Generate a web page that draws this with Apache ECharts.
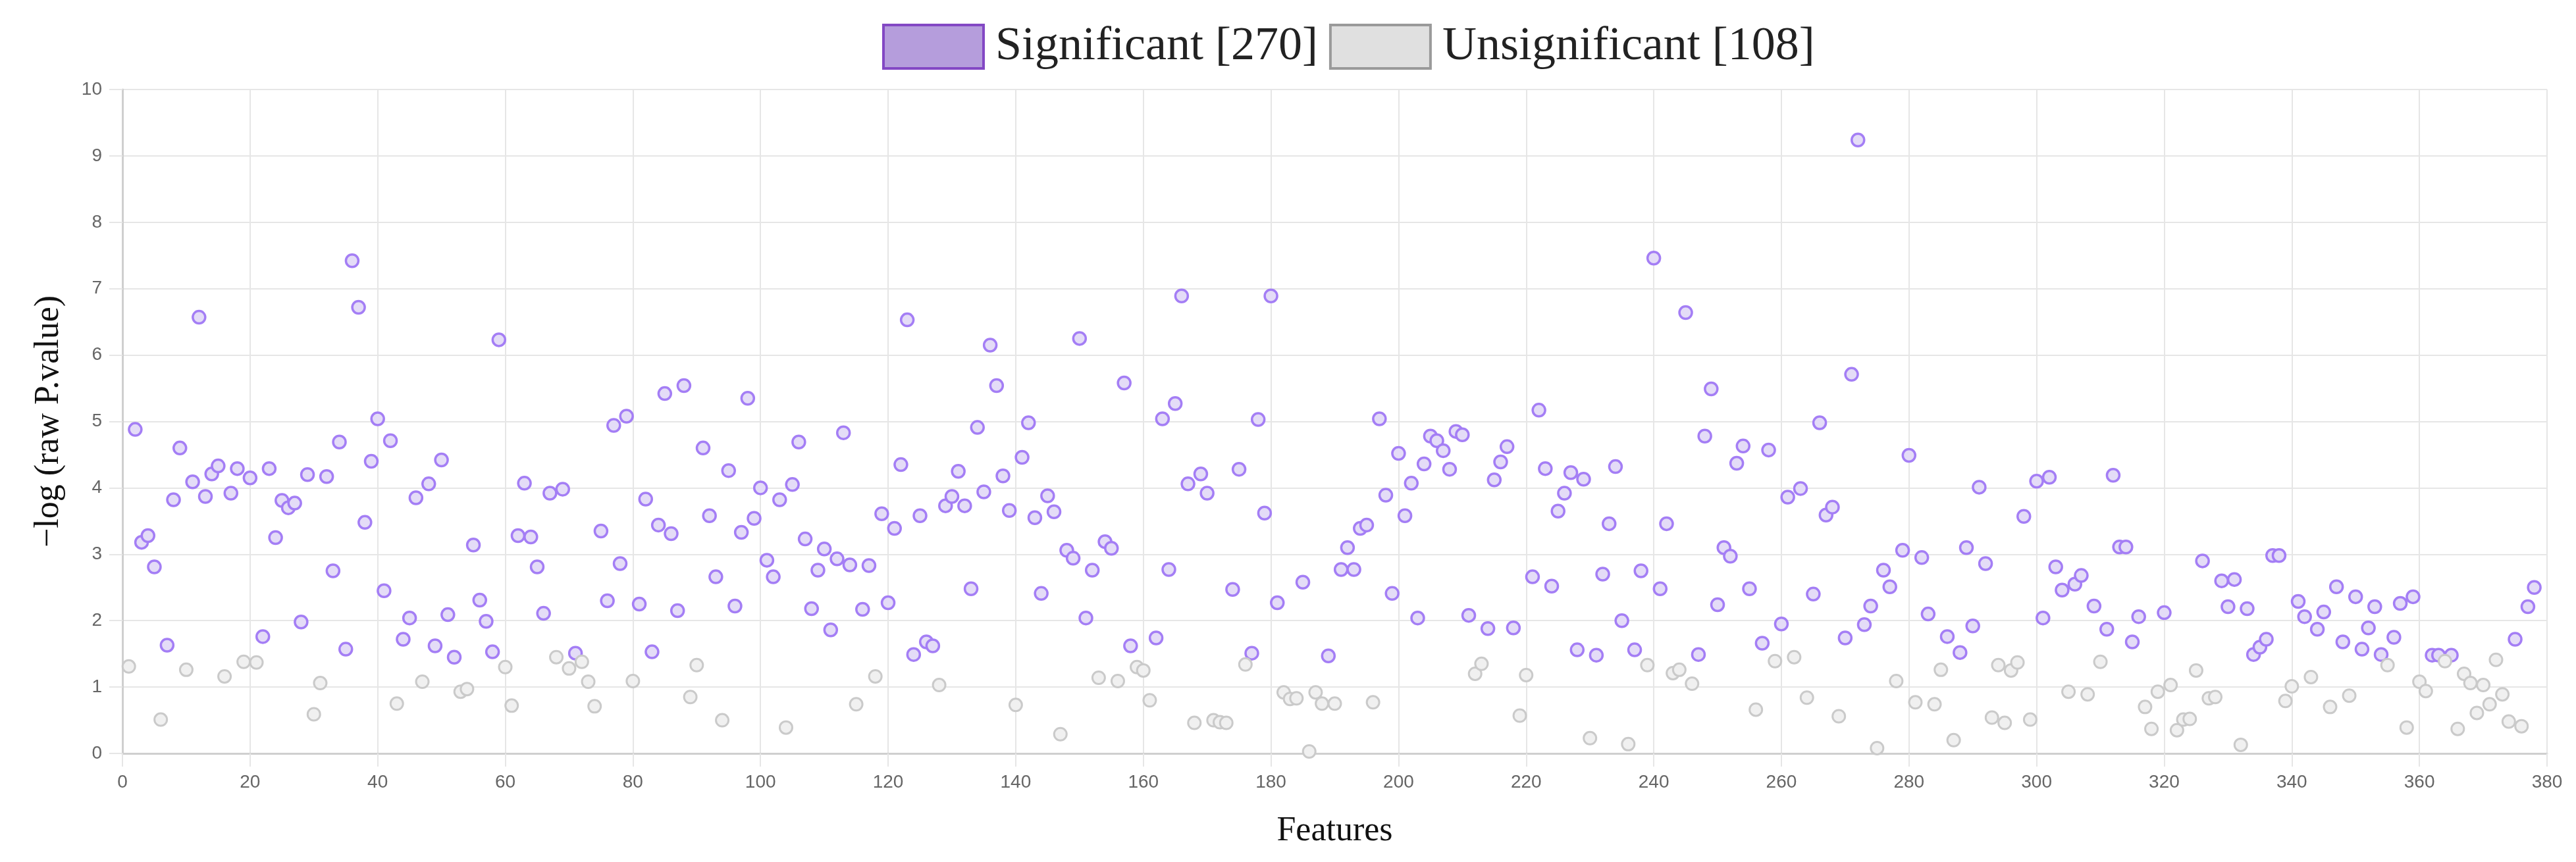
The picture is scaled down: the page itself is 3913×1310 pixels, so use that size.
<!DOCTYPE html>
<html>
<head>
<meta charset="utf-8">
<script src="https://cdn.jsdelivr.net/npm/echarts@6/dist/echarts.min.js"></script>
<style>
  html, body { margin: 0; padding: 0; background: #fff; }
  #chart { width: 3913px; height: 1310px; }
</style>
</head>
<body>
<div id="chart"></div>
<script>
// -log(raw P.value) per feature, feature 1..378 in order
const scores = [
  1.31, 4.88, 3.18, 3.28, 2.81, 0.51, 1.63, 3.82, 4.60, 1.26,
  4.09, 6.57, 3.87, 4.21, 4.33, 1.16, 3.92, 4.29, 1.38, 4.15,
  1.37, 1.76, 4.29, 3.25, 3.81, 3.70, 3.77, 1.98, 4.20, 0.59,
  1.06, 4.17, 2.75, 4.69, 1.57, 7.42, 6.72, 3.48, 4.40, 5.04,
  2.45, 4.71, 0.75, 1.72, 2.04, 3.85, 1.08, 4.06, 1.62, 4.42,
  2.09, 1.45, 0.93, 0.97, 3.14, 2.31, 1.99, 1.53, 6.23, 1.30,
  0.72, 3.28, 4.07, 3.26, 2.81, 2.11, 3.92, 1.45, 3.98, 1.28,
  1.51, 1.38, 1.08, 0.71, 3.35, 2.30, 4.94, 2.86, 5.08, 1.09,
  2.25, 3.83, 1.53, 3.44, 5.42, 3.31, 2.15, 5.54, 0.85, 1.33,
  4.60, 3.58, 2.66, 0.50, 4.26, 2.22, 3.33, 5.35, 3.54, 4.00,
  2.91, 2.66, 3.82, 0.39, 4.05, 4.69, 3.23, 2.18, 2.76, 3.08,
  1.86, 2.93, 4.83, 2.84, 0.74, 2.17, 2.83, 1.16, 3.61, 2.27,
  3.39, 4.35, 6.53, 1.49, 3.58, 1.68, 1.62, 1.03, 3.73, 3.87,
  4.25, 3.73, 2.48, 4.91, 3.94, 6.15, 5.54, 4.18, 3.66, 0.73,
  4.46, 4.98, 3.55, 2.41, 3.88, 3.64, 0.29, 3.06, 2.94, 6.25,
  2.04, 2.76, 1.14, 3.19, 3.09, 1.09, 5.58, 1.62, 1.30, 1.25,
  0.80, 1.74, 5.04, 2.77, 5.27, 6.89, 4.06, 0.46, 4.21, 3.92,
  0.50, 0.47, 0.46, 2.47, 4.28, 1.34, 1.51, 5.03, 3.62, 6.89,
  2.27, 0.92, 0.82, 0.83, 2.58, 0.03, 0.92, 0.75, 1.47, 0.75,
  2.77, 3.10, 2.77, 3.39, 3.44, 0.77, 5.04, 3.89, 2.41, 4.52,
  3.58, 4.07, 2.04, 4.36, 4.78, 4.71, 4.56, 4.28, 4.85, 4.80,
  2.08, 1.20, 1.35, 1.88, 4.12, 4.39, 4.62, 1.89, 0.57, 1.18,
  2.66, 5.17, 4.29, 2.52, 3.65, 3.92, 4.23, 1.56, 4.13, 0.23,
  1.48, 2.70, 3.46, 4.32, 2.00, 0.14, 1.56, 2.75, 1.33, 7.46,
  2.48, 3.46, 1.21, 1.26, 6.64, 1.05, 1.49, 4.78, 5.49, 2.24,
  3.10, 2.97, 4.37, 4.63, 2.48, 0.66, 1.66, 4.57, 1.39, 1.95,
  3.86, 1.45, 3.99, 0.84, 2.40, 4.98, 3.59, 3.71, 0.56, 1.74,
  5.71, 9.24, 1.94, 2.22, 0.08, 2.76, 2.51, 1.09, 3.06, 4.49,
  0.77, 2.95, 2.10, 0.74, 1.26, 1.76, 0.20, 1.52, 3.10, 1.92,
  4.01, 2.86, 0.54, 1.33, 0.46, 1.25, 1.37, 3.57, 0.51, 4.10,
  2.04, 4.16, 2.81, 2.46, 0.93, 2.55, 2.68, 0.89, 2.22, 1.38,
  1.87, 4.19, 3.11, 3.11, 1.68, 2.06, 0.70, 0.37, 0.93, 2.12,
  1.03, 0.35, 0.51, 0.52, 1.25, 2.90, 0.83, 0.85, 2.60, 2.21,
  2.62, 0.13, 2.18, 1.49, 1.60, 1.72, 2.98, 2.98, 0.79, 1.01,
  2.29, 2.06, 1.15, 1.87, 2.13, 0.70, 2.51, 1.68, 0.87, 2.36,
  1.57, 1.89, 2.21, 1.49, 1.33, 1.75, 2.26, 0.39, 2.36, 1.08,
  0.94, 1.48, 1.48, 1.39, 1.48, 0.37, 1.20, 1.06, 0.61, 1.03,
  0.74, 1.41, 0.89, 0.48, 1.72, 0.41, 2.21, 2.50
]

// features drawn in grey
const unsignificantFeatures = [
  1, 6, 10, 16, 19, 21, 30, 31, 43, 47, 53, 54, 60, 61, 68, 70, 72, 73, 74, 80,
  89, 90, 94, 104, 115, 118, 128, 140, 147, 153, 156, 159, 160, 161, 168, 171, 172, 173, 176,
  182, 183, 184, 186, 187, 188, 190, 196, 212, 213, 219, 220, 230, 236, 239, 243, 244, 246,
  256, 259, 262, 264, 269, 275, 278, 281, 284, 285, 287, 293, 294, 295, 296, 297, 299,
  305, 308, 310, 317, 318, 319, 321, 322, 323, 324, 325, 327, 328, 332, 339, 340, 343, 346, 349,
  355, 358, 360, 361, 364, 366, 367, 368, 369, 370, 371, 372, 373, 374, 376
]

const seriesNames = ['Significant', 'Unsignificant']

const sigData = []
const unsigData = []
scores.forEach((v, i) => {
  const feature = i + 1
  if (unsignificantFeatures.includes(feature)) unsigData.push([feature, v])
  else sigData.push([feature, v])
})

const legendNames = [
  `${seriesNames[0]} [${sigData.length}]`,
  `${seriesNames[1]} [${unsigData.length}]`
]

const gridColor = '#e6e6e6'
const serif = '"Liberation Serif", "Times New Roman", serif'
const sans = '"Liberation Sans", Arial, sans-serif'

const chart = echarts.init(document.getElementById('chart'))

chart.setOption({
  animation: false,
  legend: {
    left: 1335,
    top: 30,
    itemWidth: 152,
    itemHeight: 66,
    itemGap: 17,
    textStyle: {
      fontFamily: serif,
      fontSize: 72,
      color: '#222',
      padding: [0, 0, 0, 13]
    },
    data: [
      {
        name: legendNames[0],
        icon: 'rect',
        itemStyle: { color: '#b59ddc', borderColor: '#8348c4', borderWidth: 4 }
      },
      {
        name: legendNames[1],
        icon: 'rect',
        itemStyle: { color: '#e0e0e0', borderColor: '#9a9a9a', borderWidth: 4 }
      }
    ]
  },
  grid: {
    left: 186,
    right: 44,
    top: 136,
    bottom: 165
  },
  xAxis: {
    type: 'value',
    min: 0,
    max: 380,
    interval: 20,
    name: 'Features',
    nameLocation: 'middle',
    nameGap: 92,
    nameTextStyle: { fontFamily: serif, fontSize: 52, color: '#111' },
    axisLine: { show: true, lineStyle: { color: '#cfcfcf', width: 3 } },
    axisTick: { show: true, length: 20, lineStyle: { color: gridColor, width: 2 } },
    axisLabel: { fontFamily: sans, fontSize: 28, color: '#666', margin: 30 },
    splitLine: { show: true, lineStyle: { color: gridColor, width: 2 } }
  },
  yAxis: {
    type: 'value',
    min: 0,
    max: 10,
    interval: 1,
    name: '\u2212log (raw P.value)',
    nameLocation: 'middle',
    nameGap: 86,
    nameTextStyle: { fontFamily: serif, fontSize: 52, color: '#111' },
    axisLine: { show: true, lineStyle: { color: '#cfcfcf', width: 3 } },
    axisTick: { show: true, length: 20, lineStyle: { color: gridColor, width: 2 } },
    axisLabel: { fontFamily: sans, fontSize: 28, color: '#666', margin: 31 },
    splitLine: { show: true, lineStyle: { color: gridColor, width: 2 } }
  },
  series: [
    {
      name: legendNames[0],
      type: 'scatter',
      symbol: 'circle',
      symbolSize: 19,
      data: sigData,
      itemStyle: { color: '#e4dcf7', borderColor: '#a47ef5', borderWidth: 3.5, opacity: 1 }
    },
    {
      name: legendNames[1],
      type: 'scatter',
      symbol: 'circle',
      symbolSize: 19,
      data: unsigData,
      itemStyle: { color: '#f0f0f0', borderColor: '#cacaca', borderWidth: 3, opacity: 1 }
    }
  ]
})

window.addEventListener('resize', () => {
  chart.resize()
})
</script>
</body>
</html>
